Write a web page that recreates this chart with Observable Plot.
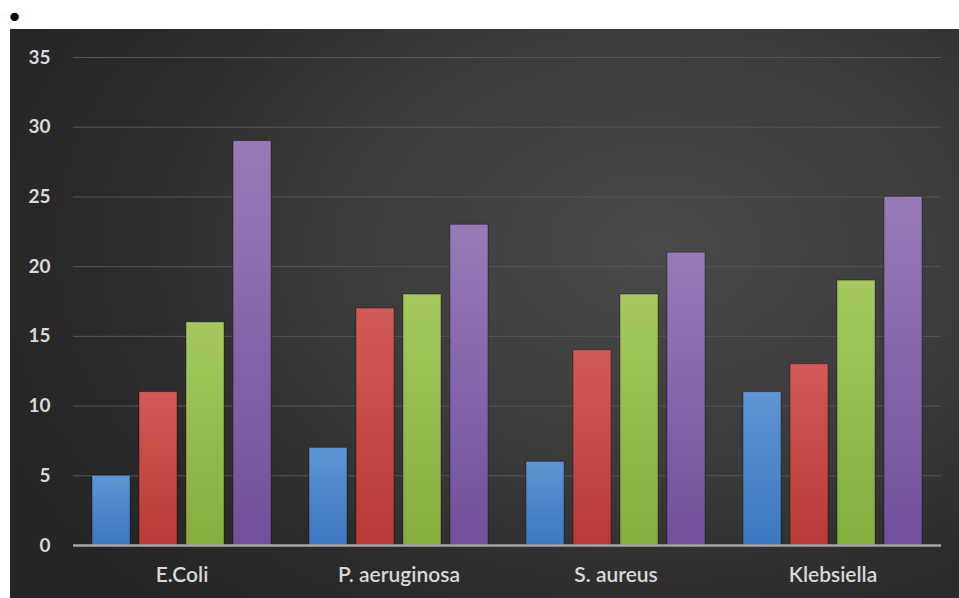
<!DOCTYPE html>
<html>
<head>
<meta charset="utf-8">
<script src="https://cdn.jsdelivr.net/npm/d3@7"></script>
<script src="https://cdn.jsdelivr.net/npm/@observablehq/plot@0.6"></script>
<style>
  html, body { margin: 0; padding: 0; background: #fff; width: 959px; height: 598px; overflow: hidden; }
  #bullet { position: absolute; left: 6px; top: 0px; font: 29px "DejaVu Sans", sans-serif; color: #000; line-height: normal; }
  #panel { position: absolute; left: 10px; top: 29px; width: 949px; height: 569px;
    background: radial-gradient(ellipse 75% 85% at 68% 38%, #4a4a4a 0%, #3b3b3b 45%, #2a2a2a 80%, #252525 100%); }
  #panel svg { display: block; background: transparent; }
</style>
</head>
<body>
<div id="panel"></div>
<div id="bullet">•</div>
<script>
const categories = ["E.Coli", "P. aeruginosa", "S. aureus", "Klebsiella"];
const seriesNames = ["Series 1", "Series 2", "Series 3", "Series 4"];
const series1 = [5, 7, 6, 11];
const series2 = [11, 17, 14, 13];
const series3 = [16, 18, 18, 19];
const series4 = [29, 23, 21, 25];
const yTicks = [0, 5, 10, 15, 20, 25, 30, 35];

const allSeries = [series1, series2, series3, series4];
const data = [];
categories.forEach((c, i) => {
  seriesNames.forEach((s, j) => data.push({category: c, series: s, value: allSeries[j][i]}));
});

const gradIds = ["gBlue", "gRed", "gGreen", "gPurple"];
const gradStops = [
  ["#5e95d3", "#3b78c0"],
  ["#d25a57", "#b83a36"],
  ["#a5c95e", "#86ae3f"],
  ["#967bb8", "#70519a"]
];

const chart = Plot.plot({
  width: 949,
  height: 569,
  marginTop: 28,
  marginBottom: 53,
  marginLeft: 63,
  marginRight: 18,
  style: {background: "transparent", color: "#d9d9d9"},
  fx: {domain: categories, paddingInner: 0, paddingOuter: 0, label: null},
  x: {domain: seriesNames, paddingInner: 0.19, paddingOuter: 0.4, axis: null},
  y: {domain: [0, 35], ticks: yTicks, label: null},
  color: {domain: seriesNames, range: gradIds.map(id => `url(#${id})`)},
  facet: {marginTop: 0, marginBottom: 0, marginLeft: 0, marginRight: 0},
  marks: [
    Plot.gridY(yTicks.filter(d => d > 0), {stroke: "#555555", strokeOpacity: 1, strokeWidth: 1}),
    Plot.axisY({ticks: yTicks, tickSize: 0, tickPadding: 23, fontSize: 19, fontWeight: "bold", fontFamily: "Lato", fill: "#d9d9d9", label: null}),
    Plot.axisFx({anchor: "bottom", tickSize: 0, tickPadding: 22, fontSize: 21, fontWeight: 600, fontFamily: "Lato", fill: "#d9d9d9", label: null}),
    Plot.barY(data, {fx: "category", x: "series", y: "value", fill: "series", stroke: "rgba(0,0,0,0.35)", strokeWidth: 1}),
    Plot.ruleY([0], {stroke: "#a6a6a6", strokeWidth: 2.5})
  ]
});

const svg = d3.select(chart);
const defs = svg.insert("defs", ":first-child");
gradIds.forEach((id, i) => {
  const g = defs.append("linearGradient").attr("id", id).attr("x1", 0).attr("y1", 0).attr("x2", 0).attr("y2", 1);
  g.append("stop").attr("offset", "0%").attr("stop-color", gradStops[i][0]);
  g.append("stop").attr("offset", "100%").attr("stop-color", gradStops[i][1]);
});

document.getElementById("panel").appendChild(chart);
</script>
</body>
</html>
